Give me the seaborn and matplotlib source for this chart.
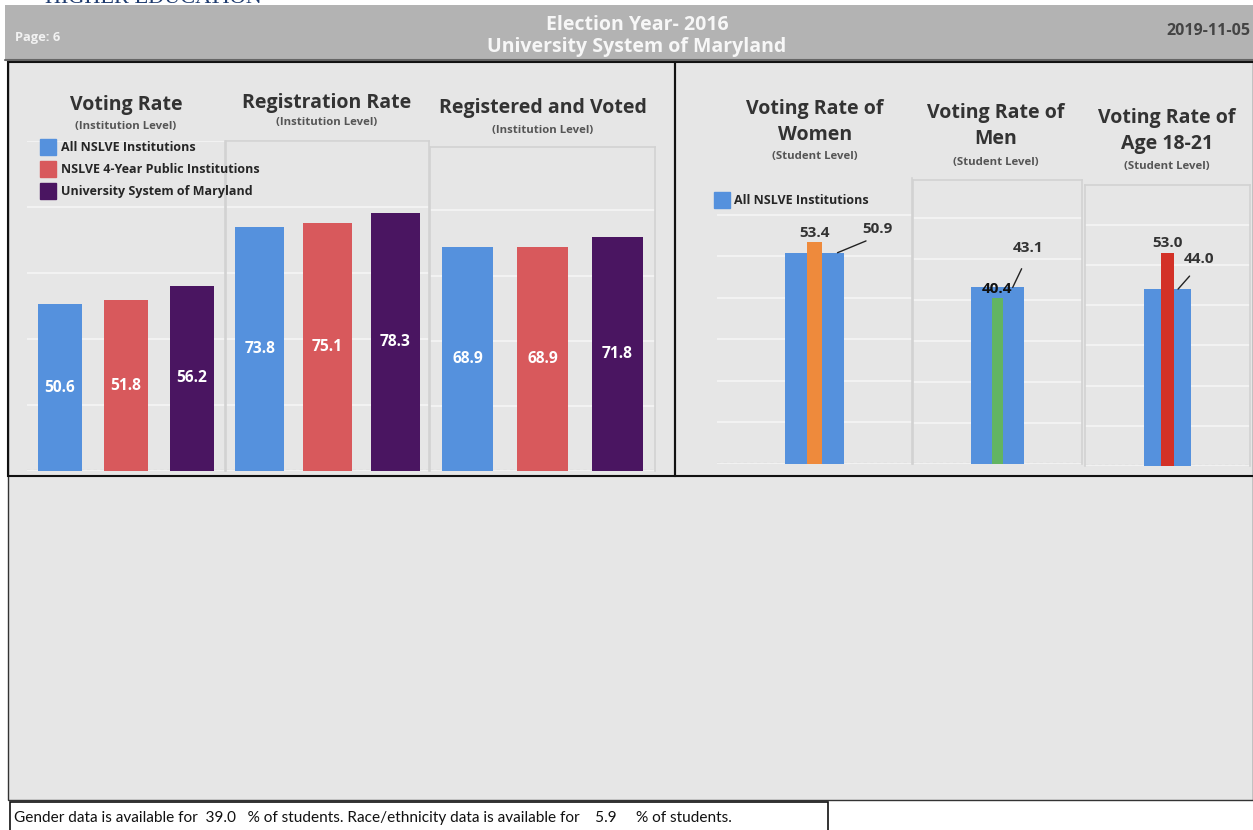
import matplotlib
matplotlib.use("Agg")
import matplotlib.pyplot as plt
import seaborn as sns
import pandas as pd
from matplotlib.patches import Rectangle
from matplotlib.lines import Line2D

W, H = 1253, 830

# ---------------- data ----------------
groups = ["All NSLVE Institutions", "NSLVE 4-Year Public Institutions", "University System of Maryland"]
voting_rate = [50.6, 51.8, 56.2]
registration_rate = [73.8, 75.1, 78.3]
registered_voted = [68.9, 68.9, 71.8]

women_all, women_usm = 50.9, 53.4
men_all, men_usm = 43.1, 40.4
age_all, age_usm = 44.0, 53.0

gender_pct = 39.0
race_pct = 5.9
report_date = "2019-11-05"
page_label = "Page: 6"
header_lines = ["Election Year- 2016", "University System of Maryland"]

# ---------------- style ----------------
BLUE = "#5591dd"
RED = "#d8595c"
PURPLE = "#4a1561"
ORANGE = "#ee8a3c"
GREEN = "#62b462"
RED2 = "#d33127"
PANEL = "#e6e6e6"
GRID = "#f3f3f3"
TXT = "#333333"
palette = [BLUE, RED, PURPLE]

sns.set_theme(style="white")
plt.rcParams["font.family"] = ["Open Sans", "DejaVu Sans"]

fig = plt.figure(figsize=(W / 100, H / 100), dpi=100)

bg = fig.add_axes([0, 0, 1, 1])
bg.set_xlim(0, W)
bg.set_ylim(H, 0)
bg.axis("off")
bg.set_zorder(0)


def rect(x0, y0, x1, y1, **kw):
    bg.add_patch(Rectangle((x0, y0), x1 - x0, y1 - y0, **kw))


# partial page text cut at top (as in the source page)
bg.text(45, 3, "HIGHER EDUCATION", family="Liberation Serif", fontsize=16,
        color="#1f3b6e", va="baseline", ha="left")

# gray content background
rect(8, 60, W, 800, facecolor=PANEL, edgecolor="#333333", lw=1.0)
# header
rect(5, 5, W, 60, facecolor="#b3b3b3", edgecolor="none")
bg.plot([5, W], [60, 60], color="#666666", lw=1.5)
bg.text(15, 37, page_label, color="#f2f2f2", fontsize=9.3, fontweight="bold", va="center")
bg.text(637, 25, header_lines[0], color="#f7f7f7", fontsize=14, fontweight="bold",
        ha="center", va="center")
bg.text(637, 47, header_lines[1], color="#f7f7f7", fontsize=14, fontweight="bold",
        ha="center", va="center")
bg.text(1250, 31, report_date, color="#444444", fontsize=11.5, fontweight="bold",
        ha="right", va="center")

# panels
rect(8, 62, 675, 476, facecolor="none", edgecolor="#111111", lw=1.5)
rect(675, 62, W + 2, 476, facecolor="none", edgecolor="#111111", lw=1.5)

# footer box
rect(10, 802, 828, 835, facecolor="white", edgecolor="#111111", lw=1.2)
bg.text(14, 818, f"Gender data is available for  {gender_pct:.1f}   % of students. "
        f"Race/ethnicity data is available for    {race_pct:.1f}     % of students.",
        family="Lato", fontsize=11.1, color="#111111", va="center", ha="left")


def px_axes(x0, y0, x1, y1):
    ax = fig.add_axes([x0 / W, 1 - y1 / H, (x1 - x0) / W, (y1 - y0) / H])
    ax.set_facecolor("none")
    ax.set_zorder(2)
    return ax


def style_axes(ax, top, step, sides=("left", "right")):
    ax.set_ylim(0, top)
    ax.set_yticks([v for v in range(0, 101, step) if v <= top])
    ax.yaxis.grid(True, color=GRID, lw=1.4)
    ax.xaxis.grid(False)
    ax.set_axisbelow(True)
    ax.tick_params(left=False, bottom=False, labelleft=False, labelbottom=False)
    ax.set_xlabel("")
    ax.set_ylabel("")
    for s in ("left", "right", "top", "bottom"):
        ax.spines[s].set_visible(s in sides)
        ax.spines[s].set_color("#d2d2d2")
        ax.spines[s].set_linewidth(1.2)
    ax.axhline(0, color="#c6c6c6", lw=1.6, ls=(0, (1.5, 1.5)), zorder=0.5)


def inst_chart(box, vals, top, width, sides):
    ax = px_axes(*box)
    df = pd.DataFrame({"group": groups, "value": vals})
    sns.barplot(data=df, x="group", y="value", hue="group", palette=palette,
                width=width, legend=False, saturation=1, linewidth=0, ax=ax)
    ax.set_xlim(-0.5, 2.5)
    style_axes(ax, top, 20, sides)
    for c in ax.containers:
        ax.bar_label(c, fmt="%.1f", label_type="center", color="white",
                     fontweight="bold", fontsize=11.2)
    return ax


ax1 = inst_chart((27, 141, 225, 471), voting_rate, 100, 0.67, ("right",))
ax2 = inst_chart((226, 141, 429, 471), registration_rate, 100, 0.72, ("left", "right", "top"))
ax3 = inst_chart((430, 147, 655, 471), registered_voted, 99.5, 0.67, ("left", "right", "top"))


def title(x, y, txt, size=14):
    bg.text(x, y, txt, ha="center", va="center", fontsize=size, fontweight="bold",
            color=TXT, linespacing=1.4)


def subtitle(x, y, txt):
    bg.text(x, y, txt, ha="center", va="center", fontsize=8.2, fontweight="bold", color="#555555")


title(126, 105, "Voting Rate")
subtitle(126, 127, "(Institution Level)")
title(327, 103, "Registration Rate")
subtitle(327, 123, "(Institution Level)")
title(543, 108, "Registered and Voted")
subtitle(543, 130, "(Institution Level)")

# legend (left panel)
handles = [Line2D([], [], marker="s", ls="none", markersize=11, color=c) for c in palette]
fig.legend(handles, groups, loc="upper left", bbox_to_anchor=(34 / W, 1 - 135 / H),
           frameon=False, prop={"size": 9, "weight": "bold"}, handletextpad=0.35,
           labelspacing=0.72, borderpad=0, handlelength=1.3)


def student_chart(box, top, base_val, over_val, over_color, w_base, w_over,
                  base_anchor_dx, base_text_off, base_shrink, over_color_txt=TXT, sides=("right",)):
    ax = px_axes(*box)
    sns.barplot(x=["v"], y=[base_val], color=BLUE, width=w_base, saturation=1, linewidth=0, ax=ax)
    sns.barplot(x=["v"], y=[over_val], color=over_color, width=w_over, saturation=1, linewidth=0, ax=ax)
    ax.set_xlim(-0.5, 0.5)
    style_axes(ax, top, 10, sides)
    ax.annotate(f"{over_val:.1f}", (0, over_val), xytext=(0, 2), textcoords="offset points",
                ha="center", va="bottom", fontsize=11, fontweight="bold", color=over_color_txt)
    ax.annotate(f"{base_val:.1f}", (base_anchor_dx, base_val), xytext=base_text_off,
                textcoords="offset points", ha="center", va="bottom", fontsize=11,
                fontweight="bold", color=TXT,
                arrowprops=dict(arrowstyle="-", color="#222222", lw=1.0, relpos=(0.5, 0),
                                shrinkA=base_shrink, shrinkB=0))
    return ax


student_chart((717, 178, 912, 464), 68.9, women_all, women_usm, ORANGE, 0.30, 0.072,
              0.118, (29, 12), 3)
student_chart((913, 180, 1082, 464), 69.3, men_all, men_usm, GREEN, 0.31, 0.066,
              0.09, (11, 23), 8, over_color_txt="#111111", sides=("left", "right", "top"))
student_chart((1085, 185, 1250, 466), 69.9, age_all, age_usm, RED2, 0.28, 0.08,
              0.064, (15, 17), 7, sides=("left", "right", "top"))

title(815, 122, "Voting Rate of\nWomen")
subtitle(815, 157, "(Student Level)")
title(996, 126, "Voting Rate of\nMen")
subtitle(996, 162, "(Student Level)")
title(1167, 131, "Voting Rate of\nAge 18-21")
subtitle(1167, 166, "(Student Level)")

fig.legend([Line2D([], [], marker="s", ls="none", markersize=12, color=BLUE)], [groups[0]],
           loc="upper left", bbox_to_anchor=(708 / W, 1 - 188 / H), frameon=False,
           prop={"size": 9, "weight": "bold"}, handletextpad=0.3, borderpad=0,
           handlelength=1.3)

fig.savefig("out.png", dpi=100)
